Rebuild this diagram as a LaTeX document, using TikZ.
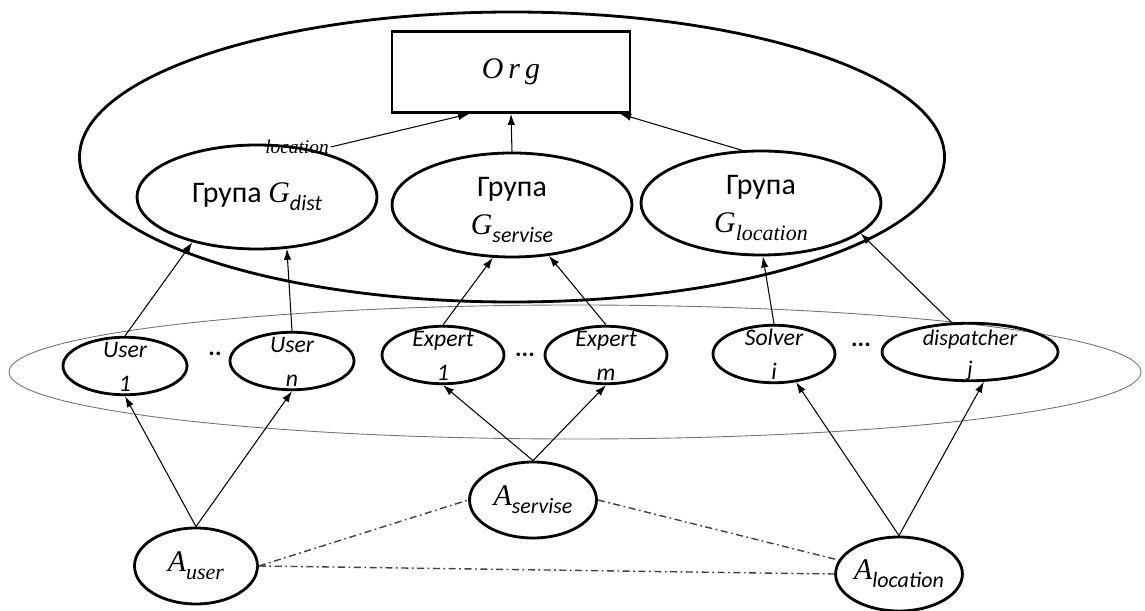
\documentclass[tikz,border=0pt]{standalone}
\usepackage{fontspec}
\setmainfont{Carlito}
\newfontfamily\serifit{Liberation Serif}
\usepackage{tikz}
\usetikzlibrary{shapes.geometric, arrows.meta}
\newcommand{\twoline}[2]{\smash{\raisebox{-0.35em}{\begin{tabular}{@{}c@{}}#1\\#2\end{tabular}}}}
\newcommand{\gsub}[2]{{\serifit\itshape #1}\raisebox{-0.55ex}{\fontsize{12.5}{14}\selectfont\itshape #2}}
\tikzstyle{zone}=[ellipse, draw, line width=1.6pt, inner sep=0pt]
\tikzstyle{grp}=[ellipse, draw, line width=1.6pt, inner sep=0pt, minimum width=4.8cm, minimum height=2.08cm, font=\fontsize{17}{22}\selectfont]
\tikzstyle{role}=[ellipse, draw, line width=1.6pt, inner sep=0pt, minimum width=2.44cm, minimum height=1.15cm, font=\fontsize{13.5}{19}\selectfont\itshape]
\tikzstyle{agent}=[ellipse, draw, line width=1.6pt, inner sep=0pt, minimum width=2.46cm, minimum height=1.52cm, font=\fontsize{17}{20}\selectfont]
\tikzstyle{link}=[-{Latex[length=2.2mm,width=1.5mm]}, line width=0.6pt]
\tikzstyle{peer}=[line width=0.8pt, black!75, dash pattern=on 4pt off 2pt on 1pt off 2pt]

\begin{document}
\begin{tikzpicture}
	\useasboundingbox (0,0) rectangle (22.9,-12.22);
	% containers
	\node[zone, minimum width=17.3cm, minimum height=5.8cm] (orgzone) at (10.24,-3.14) {};
	\node[zone, draw=black!55, line width=0.5pt, minimum width=22.64cm, minimum height=2.68cm] (rolezone) at (11.5,-7.44) {};
	% organisation and groups
	\node[draw, line width=1.6pt, minimum width=4.76cm, minimum height=1.62cm, font=\fontsize{17}{20}\selectfont\serifit\itshape] (org) at (10.22,-1.44) {O\,r\,g};
	\node[grp] (gdist) at (5.14,-3.94) {Група \gsub{G}{dist}};
	\node[grp] (gserv) at (10.24,-4.10) {\twoline{Група}{\gsub{G}{servise}}};
	\node[grp] (gloc) at (15.22,-4.06) {\twoline{Група}{\gsub{G}{\serifit location}}};
	\node[font=\fontsize{11}{13}\selectfont\serifit\itshape, inner sep=1pt] (locname) at (5.94,-2.94) {location};
	% roles
	\node[role, minimum width=2.48cm] (u1) at (2.5,-7.32) {\twoline{User}{1}};
	\node[role, minimum width=2.48cm] (un) at (5.84,-7.22) {\twoline{User}{n}};
	\node[role] (e1) at (8.86,-7.10) {\twoline{Expert}{1}};
	\node[role] (em) at (12.12,-7.10) {\twoline{Expert}{m}};
	\node[role] (solv) at (15.48,-7.08) {\twoline{Solver}{i}};
	\node[role, minimum width=3.52cm, font=\fontsize{12.7}{18}\selectfont\itshape] (disp) at (19.4,-7.04) {\twoline{dispatcher}{j}};
	\node[font=\fontsize{14}{16}\selectfont\bfseries] (udots) at (4.3,-7.08) {..};
	\node[font=\fontsize{14}{16}\selectfont\bfseries] (edots) at (10.5,-7.1) {...};
	\node[font=\fontsize{14}{16}\selectfont\bfseries] (sdots) at (17.22,-6.9) {...};
	% agents
	\node[agent] (auser) at (3.92,-11.32) {\gsub{A}{\serifit user}};
	\node[agent, minimum width=2.54cm] (aserv) at (10.66,-10.0) {\gsub{A}{servise}};
	\node[agent, minimum height=1.48cm] (aloc) at (17.98,-11.48) {\gsub{A}{location}};
	\path[link]
	(auser.north) edge (u1.south)
	(auser.north) edge (un.south)
	(aserv.north) edge (e1.south)
	(aserv.north) edge (em.south)
	(aloc.north) edge (solv.308)
	(aloc.north) edge (disp.295)
	(u1.north) edge (gdist.215)
	(un.north) edge (gdist.300)
	(e1.north) edge (gserv.250)
	(em.north) edge (gserv.306)
	(solv.north) edge (gloc.272)
	(disp.122) edge (gloc.343)
	(locname.east) edge (org.225)
	(gserv.north) edge (org.south)
	(gloc.110) edge (org.339);
	\path[peer]
	(auser.east) edge (aserv.west)
	(auser.east) edge (aloc.west)
	(aserv.east) edge (aloc.167);
\end{tikzpicture}
\end{document}
